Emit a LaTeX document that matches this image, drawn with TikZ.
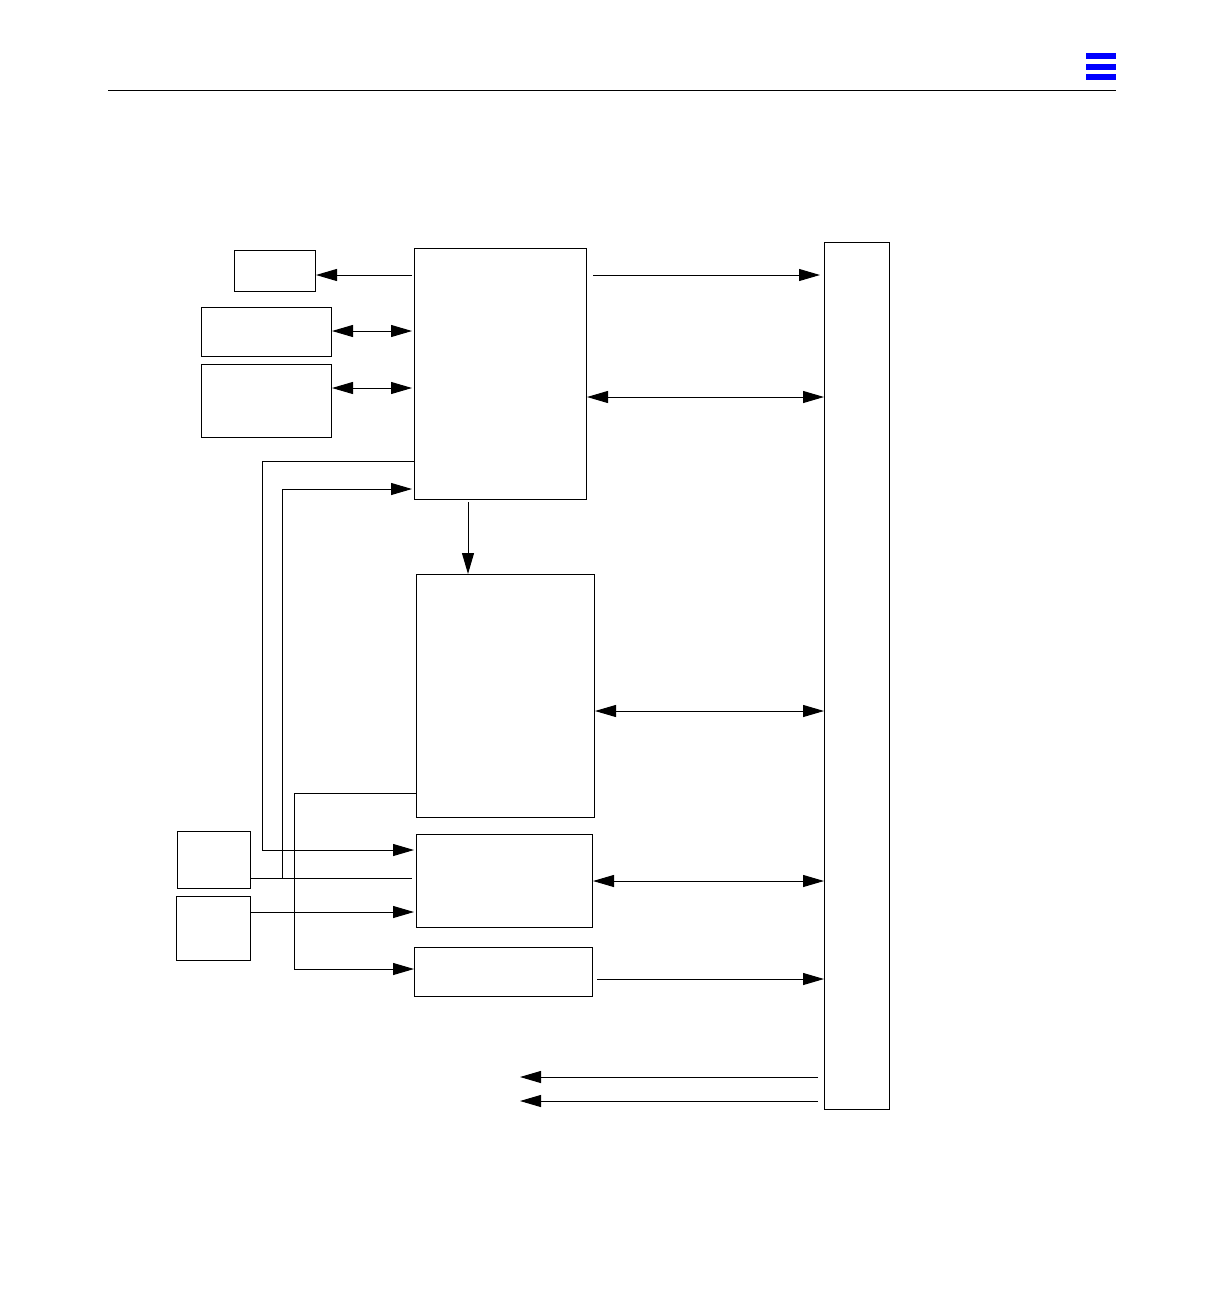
\documentclass[tikz,border=0pt]{standalone}
\usetikzlibrary{arrows.meta}
\begin{document}
\begin{tikzpicture}[x=1pt,y=-1pt,line width=1pt,
  box/.style={draw,rectangle,inner sep=0pt,anchor=north west},
  arr/.style={-{Triangle[length=21pt,width=12pt]}},
  arrtwo/.style={{Triangle[length=21pt,width=12pt]}-{Triangle[length=21pt,width=12pt]}},
  bar/.style={fill=blue,draw=none}]
\useasboundingbox (0,0) rectangle (1224,1296);
% header
\coordinate (hl) at (108,90);
\coordinate (hr) at (1116,90);
\draw (hl) -- (hr);
\fill[bar] (1086,53) rectangle (1116,59);
\fill[bar] (1086,64) rectangle (1116,70);
\fill[bar] (1086,74) rectangle (1116,80);
% boxes
\node[box,minimum width=81pt,minimum height=41pt] (A) at (234,250) {};
\node[box,minimum width=130pt,minimum height=49pt] (B) at (201,307) {};
\node[box,minimum width=130pt,minimum height=73pt] (C) at (201,364) {};
\node[box,minimum width=172pt,minimum height=251pt] (M) at (414,248) {};
\node[box,minimum width=65pt,minimum height=867pt] (R) at (824,242) {};
\node[box,minimum width=178pt,minimum height=243pt] (M2) at (416,574) {};
\node[box,minimum width=176pt,minimum height=93pt] (M3) at (416,834) {};
\node[box,minimum width=178pt,minimum height=49pt] (M4) at (414,947) {};
\node[box,minimum width=73pt,minimum height=57pt] (S1) at (177,831) {};
\node[box,minimum width=74pt,minimum height=64pt] (S2) at (176,896) {};
% connectors left of M
\draw[arr,shorten <=2pt] (M.west|-0,275) -- (A.east|-0,275);
\draw[arrtwo,shorten >=2pt] (B.east|-0,331) -- (M.west|-0,331);
\draw[arrtwo,shorten >=2pt] (C.east|-0,388) -- (M.west|-0,388);
% connectors to bus
\draw[arr,shorten <=6pt,shorten >=4pt] (M.east|-0,275) -- (R.west|-0,275);
\draw[arrtwo] (M.east|-0,397) -- (R.west|-0,397);
\draw[arr,shorten <=2pt] (M.south-|468,0) -- (M2.north-|468,0);
\draw[arrtwo] (M2.east|-0,711) -- (R.west|-0,711);
\draw[arrtwo] (M3.east|-0,881) -- (R.west|-0,881);
\draw[arr,shorten <=4pt] (M4.east|-0,979) -- (R.west|-0,979);
\coordinate (o1) at (520,1077);
\coordinate (o2) at (520,1101);
\draw[arr,shorten <=6pt] (R.west|-0,1077) -- (o1);
\draw[arr,shorten <=6pt] (R.west|-0,1101) -- (o2);
% routed lines
\draw[arr,shorten >=2pt] (M.west|-0,461) -| (262,850) -- (M3.west|-0,850);
\coordinate (j1) at (282,878);
\draw[shorten >=4pt] (S1.east|-0,878) -- (M3.west|-0,878);
\draw[arr,shorten >=2pt] (j1) |- (M.west|-0,489);
\draw[arr,shorten >=2pt] (S2.east|-0,912) -- (M3.west|-0,912);
\draw[arr] (M2.west|-0,793) -| (294,969) -- (M4.west|-0,969);
\end{tikzpicture}
\end{document}
